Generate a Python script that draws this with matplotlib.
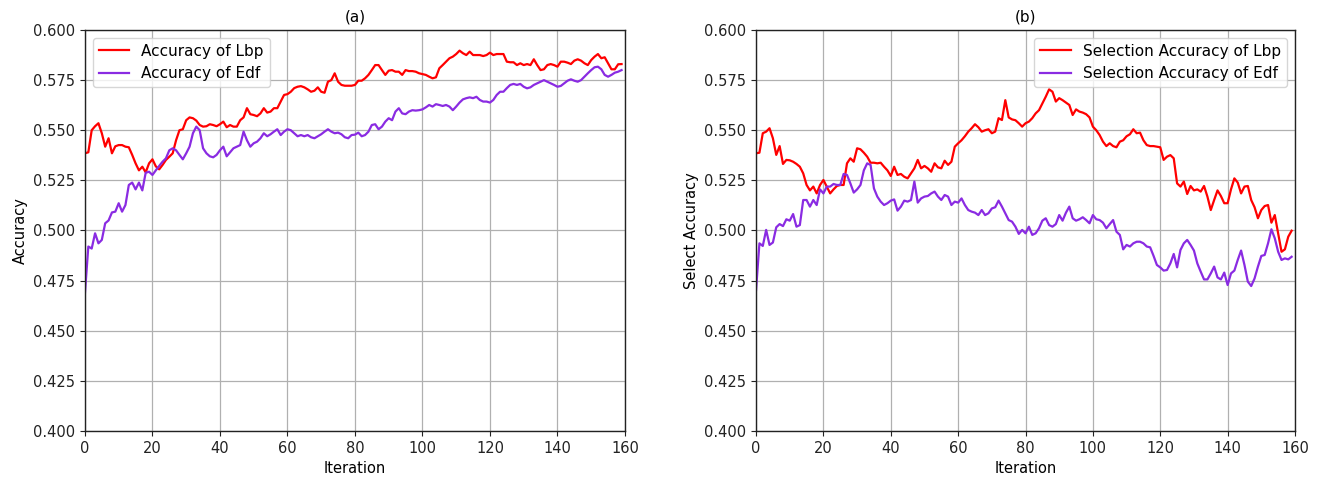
import matplotlib
matplotlib.use("Agg")
import matplotlib.pyplot as plt
import numpy as np

iterations = list(range(160))

lbp_acc = [0.5385, 0.539, 0.550, 0.552, 0.5535, 0.5485, 0.5418, 0.546, 0.5385, 0.542,
           0.5426, 0.5426, 0.5418, 0.5415, 0.5377, 0.5335, 0.530, 0.5318, 0.529, 0.5335,
           0.5355, 0.532, 0.5305, 0.5327, 0.5352, 0.5368, 0.5385, 0.545, 0.550, 0.5505,
           0.555, 0.5564, 0.556, 0.5548, 0.5526, 0.5518, 0.552, 0.553, 0.5526, 0.552,
           0.553, 0.5543, 0.5515, 0.5526, 0.5518, 0.5518, 0.555, 0.5564, 0.561, 0.558,
           0.5576, 0.557, 0.5584, 0.561, 0.5588, 0.5593, 0.561, 0.561, 0.5643, 0.5676,
           0.568, 0.5692, 0.571, 0.5717, 0.572, 0.5714, 0.5704, 0.5692, 0.5697, 0.5714,
           0.5692, 0.5687, 0.5742, 0.575, 0.5784, 0.5742, 0.5726, 0.5722, 0.5722, 0.5722,
           0.5726, 0.5747, 0.5747, 0.5759, 0.5776, 0.580, 0.5825, 0.5825, 0.580, 0.5776,
           0.5797, 0.580, 0.5792, 0.5792, 0.5776, 0.580, 0.5795, 0.5795, 0.5792, 0.5784,
           0.578, 0.5776, 0.5767, 0.5759, 0.5764, 0.5809, 0.5825, 0.5842, 0.5859, 0.5867,
           0.588, 0.5897, 0.5884, 0.5875, 0.5892, 0.5875, 0.5875, 0.5875, 0.587, 0.5875,
           0.5887, 0.5875, 0.588, 0.588, 0.588, 0.5842, 0.5839, 0.5839, 0.5825, 0.5834,
           0.5825, 0.583, 0.5825, 0.5854, 0.5825, 0.580, 0.5804, 0.5825, 0.583, 0.5825,
           0.5817, 0.5842, 0.5842, 0.5837, 0.583, 0.5847, 0.5854, 0.5847, 0.5834, 0.5825,
           0.585, 0.5867, 0.588, 0.5859, 0.5864, 0.5834, 0.5804, 0.5804, 0.5829, 0.583]

edf_acc = [0.4687, 0.492, 0.491, 0.4986, 0.4936, 0.4953, 0.5036, 0.505, 0.509, 0.5094,
           0.5136, 0.5094, 0.5127, 0.5227, 0.5239, 0.5205, 0.5239, 0.520, 0.5288, 0.5293,
           0.5277, 0.530, 0.5322, 0.5343, 0.536, 0.540, 0.541, 0.540, 0.5377, 0.5355,
           0.5385, 0.5418, 0.5485, 0.5518, 0.550, 0.541, 0.5385, 0.537, 0.5365, 0.5377,
           0.540, 0.5418, 0.537, 0.539, 0.541, 0.5418, 0.5426, 0.5493, 0.545, 0.5418,
           0.5435, 0.5443, 0.546, 0.5485, 0.547, 0.548, 0.5493, 0.5505, 0.5476, 0.5493,
           0.5505, 0.550, 0.5485, 0.547, 0.5476, 0.547, 0.5476, 0.5465, 0.546, 0.547,
           0.548, 0.5493, 0.5505, 0.5493, 0.5485, 0.5488, 0.548, 0.5465, 0.546, 0.5476,
           0.5478, 0.5488, 0.547, 0.5476, 0.5493, 0.5526, 0.553, 0.5505, 0.5518, 0.5543,
           0.556, 0.555, 0.5593, 0.561, 0.5584, 0.558, 0.5593, 0.560, 0.5598, 0.560,
           0.5604, 0.5614, 0.5626, 0.5618, 0.563, 0.5626, 0.5621, 0.5626, 0.5618, 0.560,
           0.5618, 0.5638, 0.5654, 0.566, 0.5664, 0.566, 0.5667, 0.5651, 0.5643, 0.5643,
           0.5638, 0.5651, 0.5676, 0.5692, 0.5692, 0.571, 0.5726, 0.5731, 0.5726, 0.5731,
           0.5717, 0.5709, 0.5714, 0.5726, 0.5734, 0.5742, 0.575, 0.5742, 0.5734, 0.5726,
           0.5717, 0.5721, 0.5734, 0.5747, 0.5754, 0.5747, 0.5742, 0.575, 0.5767, 0.5784,
           0.580, 0.5814, 0.5817, 0.5804, 0.5776, 0.5767, 0.5776, 0.5787, 0.5792, 0.580]

lbp_sel = [0.5385, 0.5388, 0.5485, 0.5493, 0.551, 0.546, 0.5377, 0.5421, 0.5332, 0.5352,
           0.535, 0.5343, 0.5332, 0.5318, 0.5285, 0.5227, 0.520, 0.5219, 0.5185, 0.5227,
           0.5252, 0.5219, 0.5185, 0.5205, 0.5222, 0.5227, 0.5227, 0.5335, 0.536, 0.5343,
           0.541, 0.5405, 0.5388, 0.5368, 0.5338, 0.5338, 0.5335, 0.5338, 0.5318, 0.530,
           0.5272, 0.5318, 0.5277, 0.5282, 0.5268, 0.526, 0.5285, 0.531, 0.5352, 0.531,
           0.5322, 0.531, 0.5293, 0.5335, 0.5315, 0.531, 0.5348, 0.5327, 0.5343, 0.5418,
           0.5435, 0.545, 0.547, 0.5493, 0.551, 0.553, 0.5515, 0.5493, 0.550, 0.5505,
           0.5485, 0.5493, 0.556, 0.5551, 0.565, 0.5564, 0.5554, 0.555, 0.5535, 0.5518,
           0.5535, 0.5543, 0.556, 0.5584, 0.560, 0.5634, 0.5667, 0.5704, 0.5692, 0.5643,
           0.566, 0.565, 0.5638, 0.5626, 0.5576, 0.5604, 0.5593, 0.5588, 0.558, 0.5564,
           0.5518, 0.550, 0.5476, 0.5443, 0.5421, 0.5435, 0.5421, 0.5415, 0.5443, 0.545,
           0.547, 0.548, 0.5505, 0.5485, 0.5488, 0.545, 0.5426, 0.5421, 0.5421, 0.5418,
           0.5415, 0.5352, 0.5368, 0.5376, 0.536, 0.5235, 0.5219, 0.5244, 0.5182, 0.5222,
           0.520, 0.5205, 0.5194, 0.5222, 0.5169, 0.5102, 0.5152, 0.520, 0.5172, 0.5136,
           0.5136, 0.5205, 0.526, 0.5239, 0.5185, 0.5219, 0.5222, 0.5152, 0.5116, 0.5061,
           0.5102, 0.5122, 0.5127, 0.5039, 0.5077, 0.4986, 0.4894, 0.4906, 0.4969, 0.4999]

edf_sel = [0.4703, 0.4936, 0.4923, 0.5003, 0.4928, 0.494, 0.5016, 0.5032, 0.5022, 0.5056,
           0.5049, 0.5082, 0.5019, 0.5027, 0.5152, 0.5152, 0.5119, 0.5152, 0.5127, 0.5205,
           0.5185, 0.5219, 0.5219, 0.5232, 0.5227, 0.5227, 0.5282, 0.5277, 0.5235, 0.5189,
           0.5205, 0.5227, 0.530, 0.5335, 0.5327, 0.521, 0.5169, 0.5144, 0.5127, 0.5136,
           0.5149, 0.5155, 0.5099, 0.5119, 0.5149, 0.5144, 0.5152, 0.5244, 0.5139, 0.516,
           0.5169, 0.5172, 0.5185, 0.5194, 0.5169, 0.5152, 0.5177, 0.5169, 0.5127, 0.5144,
           0.5139, 0.516, 0.5127, 0.5102, 0.5094, 0.5089, 0.5077, 0.5102, 0.5077, 0.5086,
           0.511, 0.5116, 0.5149, 0.5119, 0.5086, 0.5052, 0.5044, 0.5019, 0.4983, 0.5003,
           0.4986, 0.5019, 0.4978, 0.4986, 0.5011, 0.5049, 0.5061, 0.5027, 0.5019, 0.5032,
           0.5077, 0.5049, 0.5089, 0.5119, 0.5061, 0.5049, 0.5056, 0.5066, 0.5052, 0.5036,
           0.5077, 0.5056, 0.5052, 0.5039, 0.5011, 0.5032, 0.5052, 0.4994, 0.4978, 0.4906,
           0.4928, 0.492, 0.4936, 0.4944, 0.4944, 0.4936, 0.492, 0.4916, 0.4874, 0.4828,
           0.4816, 0.480, 0.4803, 0.4836, 0.4883, 0.4816, 0.4903, 0.4936, 0.4953, 0.4928,
           0.490, 0.4836, 0.4795, 0.4756, 0.4756, 0.4786, 0.482, 0.4766, 0.4756, 0.479,
           0.4728, 0.4786, 0.480, 0.4853, 0.490, 0.4828, 0.4745, 0.4723, 0.4761, 0.482,
           0.4873, 0.4878, 0.4936, 0.5006, 0.4961, 0.4894, 0.4853, 0.4861, 0.4856, 0.4869]

yticks = [0.400, 0.425, 0.450, 0.475, 0.500, 0.525, 0.550, 0.575, 0.600]
xticks = [0, 20, 40, 60, 80, 100, 120, 140, 160]

RED = "#ff0000"
PURPLE = "#8a2be2"

fig = plt.figure(figsize=(13.19, 4.79), dpi=100)
ax1 = fig.add_axes([0.0644, 0.1002, 0.4094, 0.8372])
ax2 = fig.add_axes([0.5732, 0.1002, 0.4086, 0.8372])

panels = [
    (ax1, lbp_acc, edf_acc, "Accuracy of Lbp", "Accuracy of Edf", "Accuracy", "(a)", "upper left"),
    (ax2, lbp_sel, edf_sel, "Selection Accuracy of Lbp", "Selection Accuracy of Edf",
     "Select Accuracy", "(b)", "upper right"),
]

for ax, s1, s2, l1, l2, ylab, title, loc in panels:
    ax.plot(iterations, s1, color=RED, lw=1.6, label=l1)
    ax.plot(iterations, s2, color=PURPLE, lw=1.6, label=l2)
    ax.set_xlim(0, 160)
    ax.set_ylim(0.4, 0.6)
    ax.set_xticks(xticks)
    ax.set_yticks(yticks)
    ax.set_yticklabels([f"{v:.3f}" for v in yticks])
    ax.grid(True, color="#b0b0b0", lw=0.9)
    ax.set_axisbelow(True)
    ax.tick_params(labelsize=10.5, colors="#222222")
    ax.set_xlabel("Iteration", fontsize=10.5)
    ax.set_ylabel(ylab, fontsize=10.5)
    ax.set_title(title, fontsize=11)
    for sp in ax.spines.values():
        sp.set_color("#222222")
        sp.set_linewidth(1.0)
    ax.legend(loc=loc, fontsize=11, framealpha=0.8)

fig.savefig("out.png", dpi=100)
